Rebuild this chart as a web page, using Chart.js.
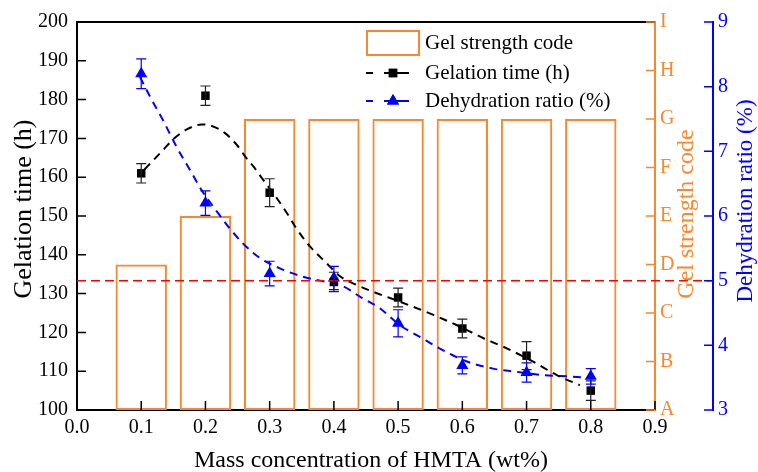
<!DOCTYPE html>
<html>
<head>
<meta charset="utf-8">
<script src="https://cdn.jsdelivr.net/npm/chart.js@4/dist/chart.umd.min.js"></script>
<style>
  html, body { margin: 0; padding: 0; background: #fff; }
</style>
</head>
<body>
<canvas id="chart" width="758" height="472"></canvas>
<script>
// HMTA concentration (wt%)
const concentrations = [0.1, 0.2, 0.3, 0.4, 0.5, 0.6, 0.7, 0.8];
const gelCodes = ['A', 'B', 'C', 'D', 'E', 'F', 'G', 'H', 'I'];
// gel strength as code index (A = 0)
const gelStrength = [3, 4, 6, 6, 6, 6, 6, 6];
const gelationTime = [161, 181, 156, 133, 129, 121, 114, 105];
const gelationErr = [2.5, 2.5, 3.6, 2.5, 2.4, 2.4, 3.6, 2.5];
const dehydration = [8.2, 6.2, 5.11, 5.04, 4.34, 3.69, 3.58, 3.52];
const dehydrationErr = [0.23, 0.19, 0.19, 0.18, 0.21, 0.13, 0.15, 0.12];
// trend curves
const timeFitX = [0.105, 0.119, 0.134, 0.15, 0.171, 0.194, 0.21, 0.231, 0.249, 0.262, 0.275, 0.29, 0.306, 0.327, 0.34, 0.363, 0.389, 0.41, 0.436, 0.467, 0.503, 0.555, 0.591, 0.633, 0.669, 0.711, 0.747, 0.783];
const timeFitY = [162, 164.4, 167, 169.8, 172.3, 173.6, 173.2, 171.3, 168.3, 165.3, 162.7, 159.3, 155.8, 150.7, 147.2, 142.1, 137.8, 134.4, 132.2, 130.1, 127.9, 124.5, 121.9, 118.5, 115.9, 112.4, 109, 106.4];
const ratioFitX = [0.098, 0.114, 0.134, 0.155, 0.179, 0.194, 0.22, 0.236, 0.26, 0.285, 0.316, 0.352, 0.389, 0.415, 0.441, 0.472, 0.503, 0.534, 0.565, 0.607, 0.648, 0.685, 0.726, 0.763, 0.8];
const ratioFitY = [8.15, 7.84, 7.48, 7.07, 6.66, 6.40, 6.04, 5.83, 5.56, 5.35, 5.19, 5.06, 4.98, 4.91, 4.75, 4.57, 4.31, 4.13, 3.95, 3.75, 3.64, 3.59, 3.54, 3.52, 3.50];
const ratioThreshold = 5;

const ORANGE = '#F7882F';
const BLUE = '#0000FF';
const FONT = 'Liberation Serif';

Chart.defaults.font.family = FONT;
Chart.defaults.font.size = 20;
Chart.defaults.color = '#000';

const pts = (xs, ys) => xs.map((x, i) => ({x: x, y: ys[i]}));

// titles, inward tick marks, error bars, threshold line and legend
const decorations = {
  id: 'decorations',
  afterDatasetsDraw(chart) {
    const {ctx, chartArea: a, scales} = chart;
    const {x, y, y2} = scales;
    ctx.save();

    // threshold line runs across to the dehydration axis
    const ry = y2.getPixelForValue(ratioThreshold);
    ctx.strokeStyle = '#FF0000';
    ctx.lineWidth = 1.5;
    ctx.setLineDash([9, 5]);
    ctx.beginPath();
    ctx.moveTo(a.left, ry);
    ctx.lineTo(y2.left, ry);
    ctx.stroke();
    ctx.setLineDash([]);

    // error bars
    const errBars = (vals, errs, scale, color) => {
      ctx.strokeStyle = color;
      ctx.lineWidth = 1.2;
      concentrations.forEach((c, i) => {
        const px = x.getPixelForValue(c);
        const top = scale.getPixelForValue(vals[i] + errs[i]);
        const bot = scale.getPixelForValue(vals[i] - errs[i]);
        ctx.beginPath();
        ctx.moveTo(px, top); ctx.lineTo(px, bot);
        ctx.moveTo(px - 5, top); ctx.lineTo(px + 5, top);
        ctx.moveTo(px - 5, bot); ctx.lineTo(px + 5, bot);
        ctx.stroke();
      });
    };
    errBars(gelationTime, gelationErr, y, '#222');
    errBars(dehydration, dehydrationErr, y2, BLUE);
    ctx.restore();
  },
  afterDraw(chart) {
    const {ctx, chartArea: a, scales} = chart;
    const {x, y, y1, y2} = scales;
    ctx.save();

    // top frame line
    ctx.strokeStyle = '#000';
    ctx.lineWidth = 2;
    ctx.beginPath();
    ctx.moveTo(a.left, a.top);
    ctx.lineTo(a.right, a.top);
    ctx.stroke();

    // tick marks pointing into the plot
    const tl = 9;
    ctx.lineWidth = 1.5;
    ctx.beginPath();
    x.ticks.forEach(t => {
      const p = x.getPixelForValue(t.value);
      ctx.moveTo(p, a.bottom); ctx.lineTo(p, a.bottom - tl);
    });
    y.ticks.forEach(t => {
      const p = y.getPixelForValue(t.value);
      ctx.moveTo(a.left, p); ctx.lineTo(a.left + tl, p);
    });
    ctx.stroke();
    ctx.strokeStyle = ORANGE;
    ctx.beginPath();
    y1.ticks.forEach(t => {
      const p = y1.getPixelForValue(t.value);
      ctx.moveTo(y1.left, p); ctx.lineTo(y1.left - tl, p);
    });
    ctx.stroke();
    ctx.strokeStyle = BLUE;
    ctx.beginPath();
    y2.ticks.forEach(t => {
      const p = y2.getPixelForValue(t.value);
      ctx.moveTo(y2.left, p); ctx.lineTo(y2.left - tl, p);
    });
    ctx.stroke();

    // axis titles
    ctx.textAlign = 'center';
    ctx.textBaseline = 'middle';
    ctx.fillStyle = '#000';
    ctx.font = '24px ' + FONT;
    ctx.fillText('Mass concentration of HMTA (wt%)', 371, 461);
    const vTitle = (text, size, cx, cy, color) => {
      ctx.save();
      ctx.translate(cx, cy);
      ctx.rotate(-Math.PI / 2);
      ctx.font = size + 'px ' + FONT;
      ctx.fillStyle = color;
      ctx.fillText(text, 0, 0);
      ctx.restore();
    };
    vTitle('Gelation time (h)', 26, 24, 209, '#000');
    vTitle('Gel strength code', 24, 687, 214, ORANGE);
    vTitle('Dehydration ratio (%)', 23, 746, 201, BLUE);

    // legend
    ctx.font = '21px ' + FONT;
    ctx.textAlign = 'left';
    ctx.fillStyle = '#000';
    ctx.strokeStyle = ORANGE;
    ctx.lineWidth = 2;
    ctx.strokeRect(367, 31, 52, 24);
    ctx.fillText('Gel strength code', 425, 43);

    const legendLine = (cy, color, marker) => {
      ctx.strokeStyle = color;
      ctx.fillStyle = color;
      ctx.lineWidth = 2;
      ctx.beginPath();
      ctx.moveTo(366, cy); ctx.lineTo(373, cy);
      ctx.moveTo(384, cy); ctx.lineTo(409, cy);
      ctx.stroke();
      Chart.helpers.drawPoint(ctx, {pointStyle: marker, radius: marker === 'rect' ? 6 : 7, rotation: 0, borderWidth: 0}, 393, cy);
      ctx.fill();
    };
    legendLine(73, '#000', 'rect');
    legendLine(101, BLUE, 'triangle');
    ctx.fillStyle = '#000';
    ctx.fillText('Gelation time (h)', 425, 73);
    ctx.fillText('Dehydration ratio (%)', 425, 101);
    ctx.restore();
  }
};

new Chart(document.getElementById('chart'), {
  data: {
    datasets: [
      {
        type: 'line',
        label: 'Gelation time (h)',
        data: pts(concentrations, gelationTime),
        yAxisID: 'y',
        showLine: false,
        pointStyle: 'rect',
        pointRadius: 6,
        pointBackgroundColor: '#000',
        pointBorderWidth: 0,
        order: 1
      },
      {
        type: 'line',
        label: 'Dehydration ratio (%)',
        data: pts(concentrations, dehydration),
        yAxisID: 'y2',
        showLine: false,
        pointStyle: 'triangle',
        pointRadius: 7,
        pointBackgroundColor: BLUE,
        pointBorderWidth: 0,
        order: 1
      },
      {
        type: 'line',
        data: pts(timeFitX, timeFitY),
        yAxisID: 'y',
        borderColor: '#000',
        borderWidth: 2,
        borderDash: [8, 6],
        pointRadius: 0,
        cubicInterpolationMode: 'monotone',
        order: 2
      },
      {
        type: 'line',
        data: pts(ratioFitX, ratioFitY),
        yAxisID: 'y2',
        borderColor: BLUE,
        borderWidth: 2,
        borderDash: [8, 6],
        pointRadius: 0,
        cubicInterpolationMode: 'monotone',
        order: 2
      },
      {
        type: 'bar',
        label: 'Gel strength code',
        data: pts(concentrations, gelStrength),
        yAxisID: 'y1',
        backgroundColor: 'rgba(0,0,0,0)',
        borderColor: ORANGE,
        borderWidth: 2,
        borderSkipped: false,
        categoryPercentage: 1,
        barPercentage: 0.8,
        order: 3
      }
    ]
  },
  options: {
    responsive: false,
    animation: false,
    devicePixelRatio: 1,
    layout: { padding: { top: 22, left: 0, right: 0, bottom: 0 } },
    plugins: { legend: { display: false }, tooltip: { enabled: false } },
    scales: {
      x: {
        type: 'linear',
        min: 0, max: 0.9,
        offset: false,
        grid: { display: false, drawTicks: false, offset: false },
        border: { color: '#000', width: 2 },
        ticks: { stepSize: 0.1, padding: 6, callback: v => v.toFixed(1) },
        afterFit: s => { s.height = 62; }
      },
      y: {
        position: 'left',
        min: 100, max: 200,
        grid: { display: false, drawTicks: false },
        border: { color: '#000', width: 2 },
        ticks: { stepSize: 10, padding: 9 },
        afterFit: s => { s.width = 77; }
      },
      y1: {
        position: 'right',
        min: 0, max: 8,
        grid: { display: false, drawTicks: false },
        border: { color: ORANGE, width: 2 },
        ticks: { stepSize: 1, padding: 5, color: ORANGE, callback: v => gelCodes[v] },
        afterFit: s => { s.width = 58; }
      },
      y2: {
        position: 'right',
        min: 3, max: 9,
        grid: { display: false, drawTicks: false },
        border: { color: BLUE, width: 2 },
        ticks: { stepSize: 1, padding: 5, color: BLUE },
        afterFit: s => { s.width = 45; }
      }
    }
  },
  plugins: [decorations]
});
</script>
</body>
</html>
